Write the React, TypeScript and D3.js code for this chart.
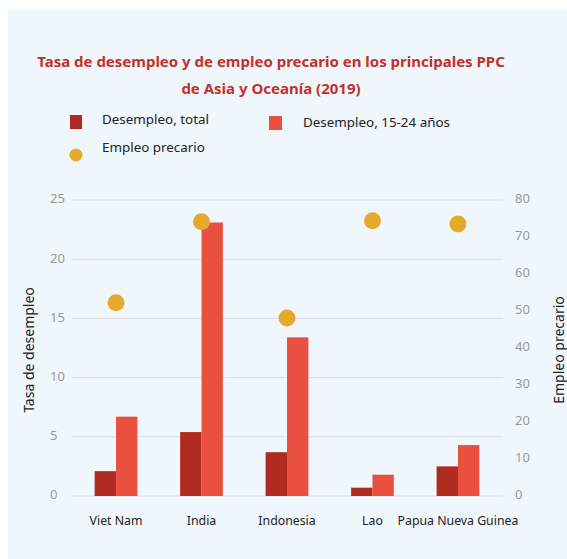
import React from "react";
import * as d3 from "d3";

const categories = ["Viet Nam", "India", "Indonesia", "Lao", "Papua Nueva Guinea"];
const desempleoTotal = [2.1, 5.4, 3.7, 0.7, 2.5];
const desempleoJoven = [6.7, 23.1, 13.4, 1.8, 4.3];
const empleoPrecario = [52.2, 74.1, 48.1, 74.4, 73.5];
const leftTicks = [0, 5, 10, 15, 20, 25];
const rightTicks = [0, 10, 20, 30, 40, 50, 60, 70, 80];
const seriesNames = ["Desempleo, total", "Desempleo, 15-24 años", "Empleo precario"];
const titleLines = [
  "Tasa de desempleo y de empleo precario en los principales PPC",
  "de Asia y Oceanía (2019)",
];

const W = 567;
const H = 559;
const FONT = "'Noto Sans', 'Open Sans', sans-serif";
const C_DARK = "#B02A20";
const C_LIGHT = "#E9503F";
const C_DOT = "#E6AA2A";

export default function App() {
  const x = d3.scaleBand<string>().domain(categories).range([72, 502]).paddingInner(0.5).paddingOuter(0.265);
  const x1 = d3.scaleBand<string>().domain(["t", "j"]).range([0, x.bandwidth()]);
  const yL = d3.scaleLinear().domain([0, 25]).range([496, 200]);
  const yR = d3.scaleLinear().domain([0, 80]).range([496, 200]);

  return (
    <svg width={W} height={H} style={{ position: "absolute", left: 0, top: 0, fontFamily: FONT }}>
      <rect x={0} y={0} width={W} height={H} fill="#ffffff" />
      <rect x={8} y={10} width={W - 8} height={H - 10} fill="#EFF6FC" />
      {titleLines.map((t, i) => (
        <text key={i} x={271} y={67 + i * 27} textAnchor="middle" fill="#C1322B" fontWeight="bold" fontSize={15}>
          {t}
        </text>
      ))}
      {/* legend */}
      <rect x={70} y={115} width={12} height={14} fill={C_DARK} />
      <text x={102} y={120} dominantBaseline="middle" fontSize={13.4} fill="#222">{seriesNames[0]}</text>
      <rect x={269} y={116} width={13} height={14} fill={C_LIGHT} />
      <text x={303} y={123} dominantBaseline="middle" fontSize={13.4} fill="#222">{seriesNames[1]}</text>
      <circle cx={76} cy={155} r={6.5} fill={C_DOT} />
      <text x={102} y={148} dominantBaseline="middle" fontSize={13.4} fill="#222">{seriesNames[2]}</text>

      {/* grid */}
      {leftTicks.map((t) => (
        <g key={t}>
          <line x1={72} x2={503} y1={yL(t)} y2={yL(t)} stroke="#D9DEE4" strokeWidth={1} />
          <text x={50} y={yL(t)} dominantBaseline="middle" fontSize={13} fill="#9A9A9A">{t}</text>
        </g>
      ))}
      {rightTicks.map((t) => (
        <text key={t} x={515} y={yR(t)} dominantBaseline="middle" fontSize={13} fill="#9A9A9A">{t}</text>
      ))}

      {/* bars */}
      {categories.map((c, i) => {
        const bx = x(c)!;
        return (
          <g key={c}>
            <rect x={bx + x1("t")!} y={yL(desempleoTotal[i])} width={x1.bandwidth()} height={yL(0) - yL(desempleoTotal[i])} fill={C_DARK} />
            <rect x={bx + x1("j")!} y={yL(desempleoJoven[i])} width={x1.bandwidth()} height={yL(0) - yL(desempleoJoven[i])} fill={C_LIGHT} />
            <circle cx={bx + x.bandwidth() / 2} cy={yR(empleoPrecario[i])} r={8.5} fill={C_DOT} />
            <text x={bx + x.bandwidth() / 2} y={522} textAnchor="middle" dominantBaseline="middle" fontSize={12.3} fill="#222">{c}</text>
          </g>
        );
      })}

      {/* axis titles */}
      <text transform="translate(30,350) rotate(-90)" textAnchor="middle" dominantBaseline="middle" fontSize={14} fill="#222">Tasa de desempleo</text>
      <text transform="translate(560,350) rotate(-90)" textAnchor="middle" dominantBaseline="middle" fontSize={14} fill="#222">Empleo precario</text>
    </svg>
  );
}
